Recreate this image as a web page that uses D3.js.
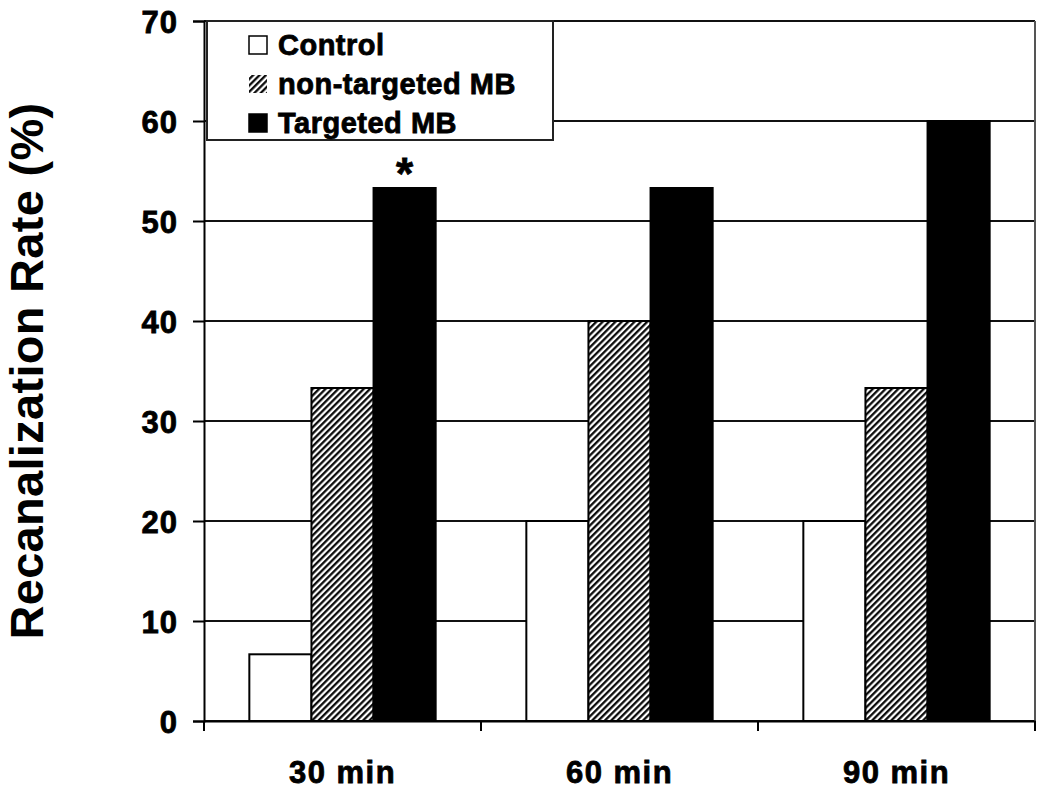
<!DOCTYPE html>
<html>
<head>
<meta charset="utf-8">
<script src="https://cdn.jsdelivr.net/npm/d3@7"></script>
<style>
  body { margin: 0; background: #fff; }
  text { font-family: "Liberation Sans", Arial, sans-serif; font-weight: bold; fill: #000; }
  .heavy { stroke: #000; stroke-width: 0.8px; }
</style>
</head>
<body>
<div class="container"></div>
<script>
(function(){

    var categories = ["30 min", "60 min", "90 min"];
    var series = ["Control", "non-targeted MB", "Targeted MB"];
    var control = [6.67, 20, 20];
    var nonTargeted = [33.3, 40, 33.3];
    var targeted = [53.3, 53.3, 60];
    var yTicks = [0, 10, 20, 30, 40, 50, 60, 70];
    var marks = [{ cat: "30 min", ser: "Targeted MB", label: "*" }];

    var values = [control, nonTargeted, targeted];

    var margin = { left: 204, right: 15, top: 21, bottom: 72 };
    var width = 1050, height = 793;

    var svg = d3.select(".container").append("svg")
        .attr("width", width)
        .attr("height", height);

    var defs = svg.append("defs");
    var hatch = defs.append("pattern")
        .attr("id", "hatch")
        .attr("patternUnits", "userSpaceOnUse")
        .attr("width", 4.5)
        .attr("height", 4.5)
        .attr("patternTransform", "rotate(45)");
    hatch.append("rect").attr("width", 4.5).attr("height", 4.5).attr("fill", "#fff");
    hatch.append("line")
        .attr("x1", 1.2).attr("y1", 0).attr("x2", 1.2).attr("y2", 4.5)
        .attr("stroke", "#000").attr("stroke-width", 2.2);

    var fills = { "Control": "#fff", "non-targeted MB": "url(#hatch)", "Targeted MB": "#000" };

    var x0 = d3.scaleBand()
        .domain(categories)
        .range([margin.left, width - margin.right]);

    var x1 = d3.scaleBand()
        .domain(series)
        .range([0, x0.bandwidth()])
        .paddingOuter(0.73);

    var y = d3.scaleLinear()
        .domain([0, 70])
        .range([height - margin.bottom, margin.top]);

    // gridlines
    svg.append("g").selectAll("line")
        .data(yTicks)
        .enter().append("line")
        .attr("x1", margin.left).attr("x2", width - margin.right)
        .attr("y1", function(d) { return y(d); })
        .attr("y2", function(d) { return y(d); })
        .attr("stroke", "#111")
        .attr("stroke-width", 2);

    // right border
    svg.append("line")
        .attr("x1", width - margin.right).attr("x2", width - margin.right)
        .attr("y1", y(70)).attr("y2", y(0))
        .attr("stroke", "#555").attr("stroke-width", 2);

    // bars
    var rows = [];
    categories.forEach(function(c, i) {
        series.forEach(function(s, j) {
            rows.push({ cat: c, ser: s, val: values[j][i] });
        });
    });

    svg.append("g").selectAll("rect")
        .data(rows)
        .enter().append("rect")
        .attr("x", function(d) { return x0(d.cat) + x1(d.ser); })
        .attr("width", x1.bandwidth())
        .attr("y", function(d) { return y(d.val); })
        .attr("height", function(d) { return y(0) - y(d.val); })
        .attr("fill", function(d) { return fills[d.ser]; })
        .attr("stroke", "#000")
        .attr("stroke-width", 2);

    // significance mark
    svg.append("g").selectAll("text")
        .data(marks)
        .enter().append("text")
        .attr("x", function(d) { return x0(d.cat) + x1(d.ser) + x1.bandwidth() / 2; })
        .attr("y", function(d) {
            var j = series.indexOf(d.ser), i = categories.indexOf(d.cat);
            return y(values[j][i]) + 1;
        })
        .attr("text-anchor", "middle")
        .attr("class", "heavy")
        .style("font-size", "44px")
        .text(function(d) { return d.label; });

    // y axis
    var yAxis = svg.append("g")
        .attr("transform", "translate(" + margin.left + ",0)")
        .call(d3.axisLeft(y).tickValues(yTicks).tickSize(11).tickPadding(15));
    yAxis.select(".domain").attr("stroke", "#000").attr("stroke-width", 2);
    yAxis.selectAll(".tick line").attr("stroke", "#000").attr("stroke-width", 2);
    yAxis.selectAll(".tick text")
        .attr("class", "heavy")
        .style("font-size", "31px")
        .style("letter-spacing", "1px")
        .attr("dy", "0.36em");

    // x axis
    var xAxis = svg.append("g")
        .attr("transform", "translate(0," + y(0) + ")")
        .call(d3.axisBottom(x0).tickSize(0).tickPadding(40));
    xAxis.select(".domain").attr("stroke", "#000").attr("stroke-width", 2);
    xAxis.selectAll(".tick text")
        .attr("class", "heavy")
        .style("font-size", "31px")
        .style("letter-spacing", "1.5px");

    // category separators
    var bounds = categories.map(function(c) { return x0(c); }).concat([x0.range()[1]]);
    svg.append("g").selectAll("line")
        .data(bounds)
        .enter().append("line")
        .attr("x1", function(d) { return d; }).attr("x2", function(d) { return d; })
        .attr("y1", y(0)).attr("y2", y(0) + 10)
        .attr("stroke", "#000").attr("stroke-width", 2);

    // y title
    svg.append("text")
        .attr("transform", "translate(43," + ((y(0) + y(70)) / 2) + ") rotate(-90)")
        .attr("text-anchor", "middle")
        .style("font-size", "47px")
        .style("letter-spacing", "0.3px")
        .text("Recanalization Rate (%)");

    // legend
    var legend = svg.append("g");
    legend.append("rect")
        .attr("x", 207).attr("y", y(70))
        .attr("width", 346).attr("height", 119)
        .attr("fill", "#fff")
        .attr("stroke", "#222").attr("stroke-width", 2);

    var item = legend.selectAll(".item")
        .data(series)
        .enter().append("g")
        .attr("class", "item")
        .attr("transform", function(d, i) { return "translate(249," + (45 + i * 39) + ")"; });

    item.append("rect")
        .attr("x", 0).attr("y", -9)
        .attr("width", 18).attr("height", 18)
        .attr("fill", function(d) { return fills[d]; })
        .attr("stroke", function(d, i) { return i === 1 ? "none" : "#000"; })
        .attr("stroke-width", 1.5);

    item.append("text")
        .attr("x", 29)
        .attr("dy", "0.36em")
        .attr("class", "heavy")
        .style("font-size", "29px")
        .style("letter-spacing", "0.5px")
        .text(function(d) { return d; });

})();
</script>
</body>
</html>
